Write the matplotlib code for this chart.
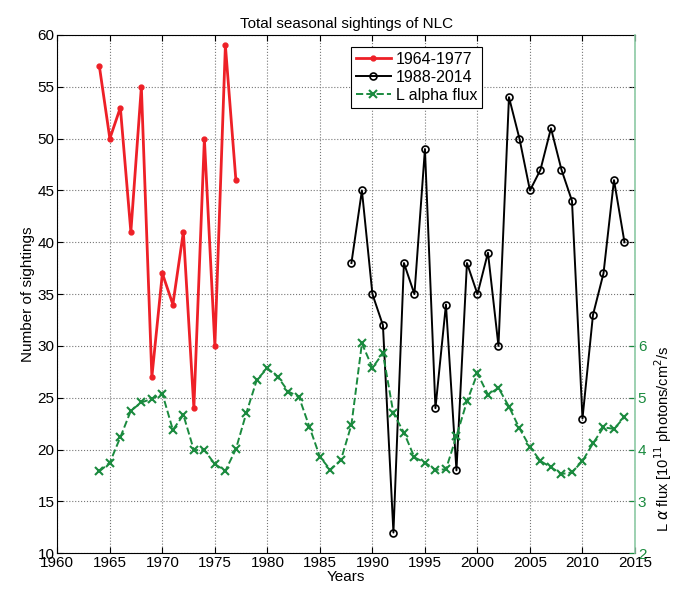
import numpy as np
import matplotlib
matplotlib.use('Agg')
import matplotlib.pyplot as plt

plt.rcParams['font.family'] = ['Liberation Sans', 'DejaVu Sans']

# ── data ─────────────────────────────────────────────────────────────────
years_early = list(range(1964, 1978))
sight_early = [57, 50, 53, 41, 55, 27, 37, 34, 41, 24, 50, 30, 59, 46]

years_late = list(range(1988, 2015))
sight_late = [38, 45, 35, 32, 12, 38, 35, 49, 24, 34, 18, 38, 35, 39, 30,
              54, 50, 45, 47, 51, 47, 44, 23, 33, 37, 46, 40]

years_flux = list(range(1964, 2015))
lya_flux = [3.58, 3.75, 4.24, 4.75, 4.91, 4.98, 5.08, 4.38, 4.67, 3.99,
            3.99, 3.72, 3.59, 4.01, 4.71, 5.35, 5.57, 5.40, 5.12, 5.02,
            4.44, 3.86, 3.61, 3.80, 4.48, 6.05, 5.58, 5.86, 4.70, 4.33,
            3.85, 3.75, 3.61, 3.62, 4.26, 4.93, 5.47, 5.06, 5.19, 4.83,
            4.41, 4.05, 3.78, 3.66, 3.53, 3.56, 3.78, 4.12, 4.43, 4.40, 4.63]

red = '#ee2027'
green = '#1a8a3e'
spine_green = '#8cc9a4'

fig = plt.figure(figsize=(6.85, 5.92), dpi=100)
ax = fig.add_axes([0.0837, 0.0654, 0.8433, 0.8755])
ax2 = ax.twinx()

l1, = ax.plot(years_early, sight_early, '-', color=red, lw=2.0,
              marker='.', ms=7, label='1964-1977')
l2, = ax.plot(years_late, sight_late, '-', color='black', lw=1.4,
              marker='o', ms=5, mfc='none', mew=1.2, label='1988-2014')
l3, = ax2.plot(years_flux, lya_flux, '--', color=green, lw=1.4,
               marker='x', ms=6, mew=1.5, label='L alpha flux')

ax.set_xlim(1960, 2015)
ax.set_ylim(10, 60)
ax.set_xticks(range(1960, 2016, 5))
ax.set_yticks(range(10, 61, 5))
ax.grid(True, linestyle=':', color='#777777', lw=0.8)
ax.tick_params(direction='in', top=True, right=False, labelsize=11, length=4, pad=2)
ax.spines['right'].set_visible(False)
ax.set_xlabel('Years', fontsize=11, labelpad=0)
ax.set_ylabel('Number of sightings', fontsize=11, labelpad=2)
ax.set_title('Total seasonal sightings of NLC', fontsize=11, pad=5)

ax2.set_ylim(2, 12)
ax2.set_yticks([2, 3, 4, 5, 6])
ax2.tick_params(direction='in', colors=green, labelsize=11, length=4, pad=2)
ax2.spines['right'].set_color(spine_green)
ax2.spines['right'].set_linewidth(1.2)
for s in ['left', 'top', 'bottom']:
    ax2.spines[s].set_visible(False)
ax2.set_ylabel(r'L $\alpha$ flux [10$^{11}$ photons/cm$^2$/s', fontsize=10.5,
               color='black', labelpad=4)
ax2.yaxis.label.set_y(0.22)

# mirrored left-axis ticks on the right side (MATLAB box style)
ax_r = ax.secondary_yaxis('right')
ax_r.set_yticks(range(15, 60, 5))
ax_r.tick_params(direction='in', length=4, labelright=False)
ax_r.spines['right'].set_visible(False)

leg = ax2.legend([l1, l2, l3], ['1964-1977', '1988-2014', 'L alpha flux'],
                 loc='upper left', bbox_to_anchor=(0.508, 0.977),
                 fontsize=11.5, fancybox=False, edgecolor='black',
                 framealpha=1, borderpad=0.3, labelspacing=0.2,
                 handlelength=2.2, handletextpad=0.3, borderaxespad=0)
leg.get_frame().set_linewidth(0.8)

fig.savefig('out.png', dpi=100)
